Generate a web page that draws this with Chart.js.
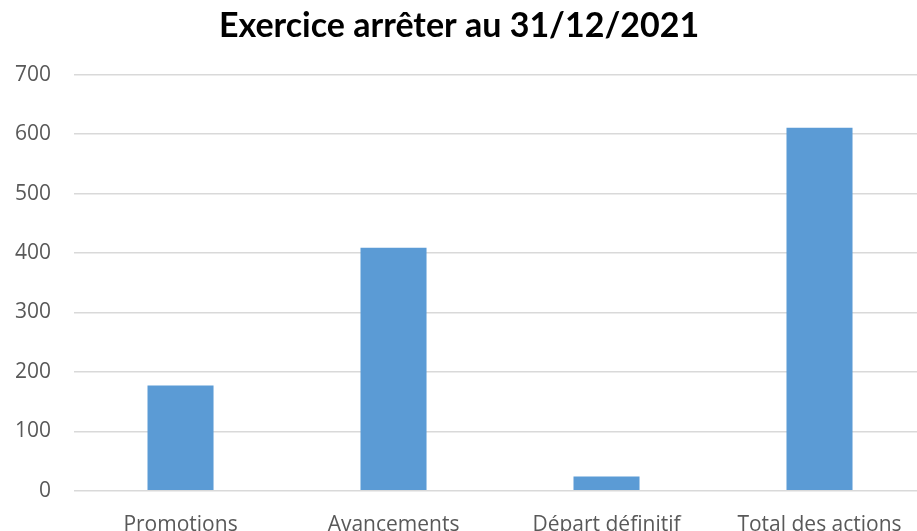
<!DOCTYPE html>
<html>
<head>
<meta charset="utf-8">
<script src="https://cdn.jsdelivr.net/npm/chart.js@4"></script>
<style>
  html, body { margin: 0; padding: 0; overflow: hidden; background: #fff; }
  #caja { position: absolute; left: 0; top: 0; width: 936px; height: 531px; }
</style>
</head>
<body>
<div id="caja"><canvas id="barras"></canvas></div>
<script>
// datos del gráfico
var categorias = ["Promotions", "Avancements", "Départ définitif", "Total des actions"];
var valores = [177, 409, 24, 611];
var titulo = "Exercice arrêter au 31/12/2021";

function cargaGrafico() {
  var datos = {
    labels: categorias,
    datasets: [{
      data: valores,
      backgroundColor: "#5b9bd5",
      barPercentage: 0.31,
      categoryPercentage: 1
    }]
  };

  var config = {
    type: "bar",
    data: datos,
    options: {
      responsive: true,
      maintainAspectRatio: false,
      animation: false,
      layout: { padding: { left: -8, right: 10, top: 0, bottom: -21 } },
      plugins: {
        legend: { display: false },
        tooltip: { enabled: false },
        title: {
          display: true,
          text: titulo,
          color: "#000",
          font: { family: "Lato", size: 34, weight: "bold" },
          padding: { top: 6, bottom: 28 }
        }
      },
      scales: {
        x: {
          grid: { display: false },
          border: { display: false },
          ticks: {
            color: "#595959",
            font: { family: "Open Sans", size: 21 },
            padding: 14,
            maxRotation: 0
          }
        },
        y: {
          min: 0,
          max: 700,
          ticks: {
            stepSize: 100,
            color: "#595959",
            font: { family: "Open Sans", size: 21 },
            padding: 23
          },
          grid: { color: "#d9d9d9", lineWidth: 1.5, drawTicks: false },
          border: { display: false }
        }
      }
    }
  };

  new Chart(document.getElementById("barras").getContext("2d"), config);
}

cargaGrafico();
</script>
</body>
</html>
